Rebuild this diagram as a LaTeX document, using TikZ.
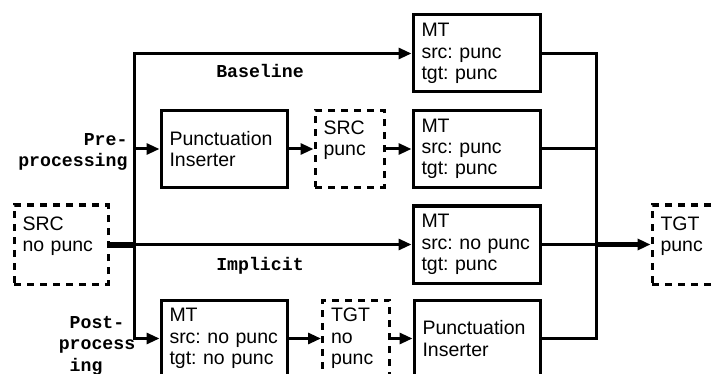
\documentclass[tikz,border=0pt]{standalone}
\usepackage{fontspec}
\setmainfont{Liberation Sans}
\newfontfamily\labfont{Liberation Mono}
\usetikzlibrary{arrows.meta}
\frenchspacing
\begin{document}
\begin{tikzpicture}[x=1pt,y=-1pt,
  line width=3pt,
  box/.style={draw, line width=3pt, minimum height=77pt, inner xsep=8.5pt, inner ysep=0pt,
    align=left, font=\frenchspacing\fontsize{19.5}{21.3}\selectfont},
  dbox/.style={box, dash pattern=on 7pt off 6pt},
  lab/.style={font=\labfont\bfseries\fontsize{18.2}{21.6}\selectfont, inner sep=0pt},
  arr/.style={-{Triangle[length=13pt,width=11pt]}, line width=3pt},
]
\useasboundingbox (0,0) rectangle (717,374);
\clip (0,0) rectangle (717,374);
% boxes
\node[box, text width=110pt] (mt1) at (476.5,53.5) {MT\\src: punc\\tgt: punc};
\node[box, text width=109pt] (pi1) at (224,149) {Punctuation\\Inserter};
\node[dbox, text width=52pt] (srcp) at (349.5,149) {SRC\\punc\\\mbox{}};
\node[box, text width=110pt] (mt2) at (476.5,149) {MT\\src: punc\\tgt: punc};
\node[dbox, text width=77pt, minimum height=79pt] (src) at (61,244.5) {SRC\\no punc\\\mbox{}};
\node[box, text width=110pt] (mt3) at (476.5,244.5) {MT\\src: no punc\\tgt: punc};
\node[dbox, text width=77pt, minimum height=79pt] (tgt) at (699,244.5) {TGT\\punc\\\mbox{}};
\node[box, text width=109pt] (mt4) at (224,338.5) {MT\\src: no punc\\tgt: no punc};
\node[dbox, text width=50pt] (tgtnp) at (356,338.5) {TGT\\no\\punc};
\node[box, text width=109pt] (pi2) at (477,338.5) {Punctuation\\Inserter};
% labels
\node[lab] (bl) at (260,71) {Baseline};
\node[lab] (im) at (260,266) {Implicit};
\node[lab, align=right, anchor=east] (pre) at (129,152) {Pre-\\processing};
\node[lab, align=left] (post) at (97,345.5) {\hphantom{x}Post-\\process\\\hphantom{x}ing};
% bus coordinates
\coordinate (bt) at (134,53.5);
\coordinate (bb) at (134,338.5);
\coordinate (bj) at (134,244.5);
\coordinate (bp) at (134,149);
\coordinate (rt) at (596,53.5);
\coordinate (rm) at (596,149);
\coordinate (rj) at (596,244.5);
\coordinate (rb) at (596,338.5);
% left connectors
\draw[arr] (bj) -- (bt) -- (mt1.west);
\draw[arr] (bj) -- (bb) -- (mt4.west);
\draw[arr] (bp) -- (pi1.west);
\draw[line width=6pt] (src.east) -- (bj);
\draw[arr] (bj) -- (mt3.west);
\draw[arr] (pi1.east) -- (srcp.west);
\draw[arr] (srcp.east) -- (mt2.west);
\draw[arr] (mt4.east) -- (tgtnp.west);
\draw[arr] (tgtnp.east) -- (pi2.west);
% right connectors
\draw (mt1.east) -- (rt) -- (rb) -- (pi2.east);
\draw (mt2.east) -- (rm);
\draw (mt3.east) -- (rj);
\draw[arr, line width=5pt] (rj) -- (tgt.west);
\end{tikzpicture}
\end{document}
